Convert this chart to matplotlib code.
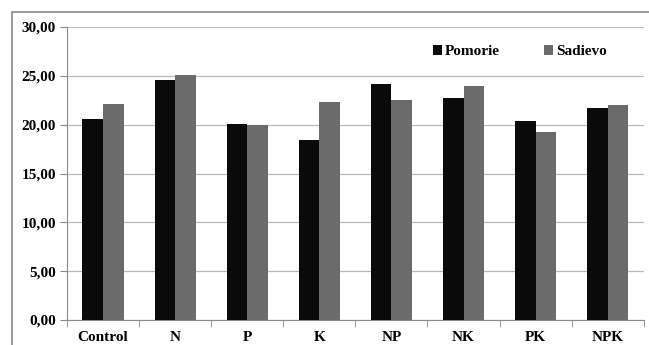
import matplotlib.pyplot as plt
import numpy as np
from matplotlib.patches import Rectangle
from matplotlib.ticker import FuncFormatter

categories = ["Control", "N", "P", "K", "NP", "NK", "PK", "NPK"]
pomorie = [20.6, 24.6, 20.05, 18.4, 24.2, 22.7, 20.4, 21.7]
sadievo = [22.15, 25.1, 19.95, 22.3, 22.5, 24.0, 19.2, 22.05]

plt.rcParams['font.family'] = ['Liberation Serif', 'DejaVu Serif']
plt.rcParams['font.weight'] = 'bold'

fig = plt.figure(figsize=(6.49, 3.45), dpi=100)
ax = fig.add_axes([0.1032, 0.0725, 0.8888, 0.8492])

# outer chart frame
fig.patches.append(Rectangle((12 / 649, -0.05), 1.0, 1 - 12 / 345 + 0.05,
                             transform=fig.transFigure, fill=False,
                             edgecolor='#8a8a8a', linewidth=1.2))

x = np.arange(len(categories))
w = 0.285
ax.bar(x - w / 2, pomorie, w, color='#0a0a0a', label='Pomorie', zorder=3)
ax.bar(x + w / 2, sadievo, w, color='#6b6b6b', label='Sadievo', zorder=3)

ax.set_xlim(-0.5, len(categories) - 0.5)
ax.set_ylim(0, 30)
ax.set_yticks(np.arange(0, 31, 5))
ax.yaxis.set_major_formatter(FuncFormatter(lambda v, p: f"{v:.2f}".replace('.', ',')))
ax.grid(axis='y', color='#b8b8b8', linewidth=0.9, zorder=0)

ax.set_xticks(x)
ax.set_xticklabels(categories)
ax.set_xticks(np.arange(-0.5, len(categories), 1), minor=True)
ax.tick_params(axis='x', which='major', length=0, pad=8, labelsize=11)
ax.tick_params(axis='x', which='minor', length=5, color='#8a8a8a')
ax.tick_params(axis='y', length=5, color='#8a8a8a', labelsize=11, pad=3)

for s in ['top', 'right']:
    ax.spines[s].set_visible(False)
for s in ['left', 'bottom']:
    ax.spines[s].set_color('#8a8a8a')

ax.legend(loc='center left', bbox_to_anchor=(0.634, 0.916), ncol=2, frameon=False,
          fontsize=11, handlelength=0.6, handleheight=0.6, handletextpad=0.2,
          columnspacing=2.9, borderpad=0, borderaxespad=0)

fig.savefig('out.png', dpi=100)
